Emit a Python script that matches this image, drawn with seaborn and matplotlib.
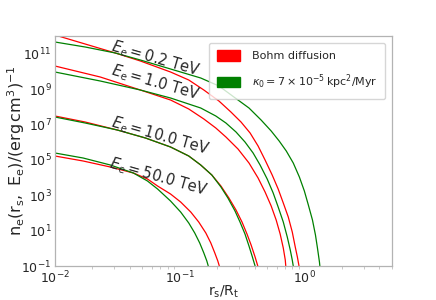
import numpy as np
import pandas as pd
import matplotlib
matplotlib.use("Agg")
import matplotlib.pyplot as plt
import seaborn as sns
from matplotlib.patches import Patch
from matplotlib.ticker import LogLocator, NullFormatter

# ---- data (log10 values) ----
energies = ["0.2", "1.0", "10.0", "50.0"]
models = ["Bohm diffusion", r"$\kappa_0 = 7\times10^{-5}\,\mathrm{kpc^2/Myr}$"]

bohm_02_lx = [-2.000, -1.758, -1.516, -1.315, -1.073, -0.927, -0.806, -0.685, -0.589, -0.508, -0.435, -0.371, -0.315, -0.258, -0.210, -0.169, -0.129, -0.097, -0.073, -0.056, -0.040]
bohm_02_ly = [12.056, 11.548, 11.040, 10.588, 9.966, 9.514, 8.949, 8.328, 7.706, 7.141, 6.520, 5.785, 4.994, 4.147, 3.356, 2.565, 1.774, 0.927, 0.079, -0.486, -1.108]
kap_02_lx = [-2.000, -1.758, -1.516, -1.315, -1.073, -0.831, -0.685, -0.565, -0.444, -0.347, -0.266, -0.202, -0.145, -0.089, -0.040, 0.000, 0.032, 0.065, 0.089, 0.105, 0.121, 0.129]
kap_02_ly = [11.661, 11.379, 11.040, 10.644, 10.136, 9.627, 9.175, 8.554, 7.932, 7.254, 6.633, 6.068, 5.503, 4.825, 4.034, 3.243, 2.452, 1.604, 0.757, 0.023, -0.768, -1.333]

bohm_10_lx = [-2.000, -1.637, -1.315, -1.073, -0.927, -0.806, -0.710, -0.629, -0.532, -0.444, -0.371, -0.315, -0.266, -0.226, -0.194, -0.169, -0.153, -0.145]
bohm_10_ly = [10.305, 9.684, 8.949, 8.384, 7.876, 7.311, 6.802, 6.294, 5.615, 4.825, 3.977, 3.186, 2.395, 1.604, 0.813, 0.022, -0.656, -1.333]
kap_10_lx = [-2.000, -1.637, -1.315, -1.073, -0.831, -0.710, -0.629, -0.548, -0.476, -0.411, -0.355, -0.298, -0.250, -0.210, -0.169, -0.137, -0.113, -0.097, -0.081]
kap_10_ly = [9.966, 9.458, 8.949, 8.497, 7.932, 7.480, 7.085, 6.576, 6.011, 5.390, 4.712, 3.921, 3.130, 2.339, 1.491, 0.644, -0.091, -0.656, -1.333]

bohm_100_lx = [-2.000, -1.758, -1.500, -1.274, -1.073, -0.927, -0.831, -0.742, -0.669, -0.605, -0.548, -0.500, -0.460, -0.427, -0.395, -0.371, -0.363]
bohm_100_ly = [7.480, 7.141, 6.689, 6.237, 5.729, 5.220, 4.712, 4.147, 3.525, 2.847, 2.169, 1.491, 0.813, 0.192, -0.486, -1.052, -1.333]
kap_100_lx = [-2.000, -1.758, -1.500, -1.274, -1.073, -0.927, -0.831, -0.742, -0.669, -0.613, -0.556, -0.516, -0.476, -0.444, -0.419, -0.395, -0.387]
kap_100_ly = [7.424, 7.085, 6.689, 6.237, 5.729, 5.220, 4.712, 4.147, 3.469, 2.847, 2.113, 1.491, 0.813, 0.135, -0.430, -0.995, -1.333]

bohm_500_lx = [-2.000, -1.774, -1.556, -1.371, -1.258, -1.177, -1.073, -0.992, -0.911, -0.847, -0.790, -0.750, -0.718, -0.694, -0.677, -0.669]
bohm_500_ly = [5.220, 4.938, 4.599, 4.260, 3.921, 3.525, 3.073, 2.621, 2.056, 1.491, 0.870, 0.305, -0.260, -0.712, -1.108, -1.333]
kap_500_lx = [-2.000, -1.774, -1.556, -1.371, -1.258, -1.177, -1.073, -0.992, -0.927, -0.879, -0.839, -0.806, -0.782, -0.766, -0.758]
kap_500_ly = [5.390, 5.107, 4.712, 4.260, 3.808, 3.356, 2.678, 2.056, 1.435, 0.870, 0.305, -0.260, -0.712, -1.108, -1.333]

label_lx = [-1.194, -1.194, -1.160, -1.170]
label_ly = [10.70, 9.34, 6.35, 4.05]

yticks_exp = [-1, 1, 3, 5, 7, 9, 11]

# ---- assemble long table ----
curves = [
    (bohm_02_lx, bohm_02_ly, models[0], "0.2"), (kap_02_lx, kap_02_ly, models[1], "0.2"),
    (bohm_10_lx, bohm_10_ly, models[0], "1.0"), (kap_10_lx, kap_10_ly, models[1], "1.0"),
    (bohm_100_lx, bohm_100_ly, models[0], "10.0"), (kap_100_lx, kap_100_ly, models[1], "10.0"),
    (bohm_500_lx, bohm_500_ly, models[0], "50.0"), (kap_500_lx, kap_500_ly, models[1], "50.0"),
]
rows = []
for lx, ly, m, e in curves:
    for i, (a, b) in enumerate(zip(lx, ly)):
        rows.append({"r": 10 ** a, "n": 10 ** b, "model": m, "E": e, "order": i})
df = pd.DataFrame(rows)

sns.set_style("white")
plt.rcParams["font.family"] = ["DejaVu Sans"]
plt.rcParams["mathtext.fontset"] = "dejavusans"

fig = plt.figure(figsize=(4.36, 3.0), dpi=100)
ax = fig.add_axes([0.126, 0.113, 0.772, 0.767])

palette = {models[0]: "red", models[1]: "green"}
for (m, e), g in df.groupby(["model", "E"], sort=False):
    sns.lineplot(data=g, x="r", y="n", color=palette[m], sort=False,
                 estimator=None, lw=0.9, ax=ax, legend=False)

ax.set_xscale("log")
ax.set_yscale("log")
ax.set_xlim(1e-2, 5.0)
ax.set_ylim(1e-1, 1e12)
ax.set_yticks([10.0 ** k for k in yticks_exp])
ax.yaxis.set_minor_locator(LogLocator(base=10, subs="auto", numticks=40))
ax.yaxis.set_minor_formatter(NullFormatter())
ax.tick_params(axis="both", which="major", labelsize=9, length=0, pad=2.5)
ax.tick_params(axis="x", which="minor", bottom=True, length=2.5, color="0.75", width=0.6)
ax.tick_params(axis="y", which="minor", left=False)

for s in ax.spines.values():
    s.set_color("0.7")
    s.set_linewidth(0.9)

ax.set_xlabel(r"$\mathrm{r_s/R_t}$", fontsize=10, labelpad=0)
ax.xaxis.set_label_coords(0.5, -0.075)
ax.set_ylabel(r"$\mathrm{n_e(r_s,\ E_e)/(erg\,cm^3)^{-1}}$", fontsize=11.5)
ax.yaxis.set_label_coords(-0.083, 0.5)

for e, lx, ly in zip(energies, label_lx, label_ly):
    ax.text(10 ** lx, 10 ** ly, r"$E_\mathrm{e} = %s\ \mathrm{TeV}$" % e,
            rotation=-16, rotation_mode="anchor", ha="center", va="center", fontsize=10.5)

handles = [Patch(facecolor="red", edgecolor="red"), Patch(facecolor="green", edgecolor="green")]
ax.legend(handles, models, loc="upper right", fontsize=8, frameon=True,
          handlelength=2.07, handleheight=1.08, handletextpad=1.08, borderpad=0.7,
          labelspacing=1.0, borderaxespad=0.6)

fig.savefig("out.png", dpi=100)
